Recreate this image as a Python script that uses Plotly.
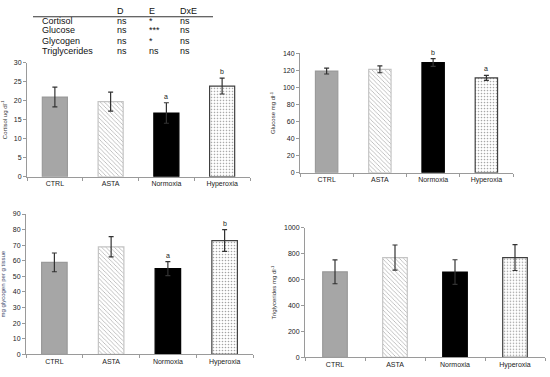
import plotly.graph_objects as go

groups = ["CTRL", "ASTA", "Normoxia", "Hyperoxia"]

cortisol = [21.0, 19.8, 16.8, 23.9]
cortisol_err = [2.6, 2.5, 2.7, 2.1]
cortisol_letters = ["", "", "a", "b"]

glucose = [119, 121, 129, 111]
glucose_err = [3.5, 4.0, 4.5, 3.0]
glucose_letters = ["", "", "b", "a"]

glycogen = [59, 69, 55, 73]
glycogen_err = [6.0, 6.5, 4.5, 7.0]
glycogen_letters = ["", "", "a", "b"]

triglycerides = [660, 770, 658, 770]
triglycerides_err = [92, 97, 95, 100]
triglycerides_letters = ["", "", "", ""]

table_header = ["D", "E", "DxE"]
table_rows = ["Cortisol", "Glucose", "Glycogen", "Triglycerides"]
table_D = ["ns", "ns", "ns", "ns"]
table_E = ["*", "***", "*", "ns"]
table_DxE = ["ns", "ns", "ns", "ns"]

W, H = 550, 377
def px(x): return x / W
def py(y): return 1 - y / H

fill_colors = ["#a6a6a6", "#ffffff", "#000000", "#ffffff"]
line_colors = ["#9a9a9a", "#c4c4c4", "#000000", "#404040"]
pat_shapes = ["", "\\", "", "."]
pat_fg = ["#a6a6a6", "#bdbdbd", "#000000", "#9a9a9a"]

panels = [
    dict(vals=cortisol, err=cortisol_err, letters=cortisol_letters,
         xd=[px(27), px(250)], yd=[py(176), py(60)], rng=[0, 30], dt=5,
         title="Cortisol ug dl<sup>-1</sup>", width=0.45, tcol="#333333"),
    dict(vals=glucose, err=glucose_err, letters=glucose_letters,
         xd=[px(300), px(513)], yd=[py(172), py(50)], rng=[0, 140], dt=20,
         title="Glucose mg dl<sup>-1</sup>", width=0.42, tcol="#333333"),
    dict(vals=glycogen, err=glycogen_err, letters=glycogen_letters,
         xd=[px(26), px(253)], yd=[py(357), py(214)], rng=[0, 90], dt=10,
         title="mg glycogen per g tissue", width=0.45, tcol="#3b4a6b"),
    dict(vals=triglycerides, err=triglycerides_err, letters=triglycerides_letters,
         xd=[px(305), px(545)], yd=[py(360), py(228)], rng=[0, 1000], dt=200,
         title="Triglycerides mg dl<sup>-1</sup>", width=0.41, tcol="#333333"),
]

fig = go.Figure()
annotations = []
for i, p in enumerate(panels):
    n = "" if i == 0 else str(i + 1)
    fig.add_trace(go.Bar(
        x=groups, y=p["vals"], width=p["width"],
        marker=dict(color=fill_colors,
                    line=dict(color=line_colors, width=1.2),
                    pattern=dict(shape=pat_shapes, fgcolor=pat_fg, bgcolor=fill_colors,
                                 size=3, solidity=0.22)),
        error_y=dict(type="data", array=p["err"], color="#333333", thickness=1.2, width=2.5),
        xaxis="x" + n, yaxis="y" + n, showlegend=False, hoverinfo="skip"))
    fig.update_layout(**{
        "xaxis" + n: dict(domain=p["xd"], anchor="y" + n, type="category",
                          showline=True, linecolor="#9a9a9a", linewidth=1,
                          ticks="outside", tickson="boundaries", ticklen=3, tickcolor="#9a9a9a",
                          tickfont=dict(size=7, color="#222222", family="Liberation Sans"),
                          range=[-0.5, 3.5], showgrid=False, zeroline=False, fixedrange=True),
        "yaxis" + n: dict(domain=p["yd"], anchor="x" + n, range=p["rng"], dtick=p["dt"],
                          showline=True, linecolor="#9a9a9a", linewidth=1,
                          ticks="outside", ticklen=3, tickcolor="#9a9a9a",
                          tickfont=dict(size=7, color="#222222", family="Liberation Sans"),
                          showgrid=False, zeroline=False, fixedrange=True,
                          title=dict(text=p["title"], font=dict(size=6, color=p["tcol"], family="Liberation Sans"), standoff=6)),
    })
    for g, v, e, L in zip(groups, p["vals"], p["err"], p["letters"]):
        if L:
            annotations.append(dict(x=g, y=v + e, xref="x" + n, yref="y" + n, text=L,
                                    showarrow=False, yanchor="bottom", yshift=1,
                                    font=dict(size=7, color="#222222", family="Liberation Sans")))

# table
tfont = dict(size=9, color="#111111", family="Liberation Sans")
col_x = [115, 147, 178]
for cx, h in zip(col_x, table_header):
    annotations.append(dict(x=px(cx), y=py(7), xref="paper", yref="paper", text=h,
                            showarrow=False, xanchor="left", yanchor="middle", font=tfont))
row_y = [17, 27, 38, 48]
for r, ry in enumerate(row_y):
    annotations.append(dict(x=px(40), y=py(ry), xref="paper", yref="paper", text=table_rows[r],
                            showarrow=False, xanchor="left", yanchor="middle", font=tfont))
    for cx, col in zip(col_x, [table_D, table_E, table_DxE]):
        annotations.append(dict(x=px(cx), y=py(ry), xref="paper", yref="paper", text=col[r],
                                showarrow=False, xanchor="left", yanchor="middle", font=tfont))

fig.update_layout(
    width=W, height=H, margin=dict(l=0, r=0, t=0, b=0),
    paper_bgcolor="white", plot_bgcolor="white",
    annotations=annotations,
    shapes=[dict(type="line", xref="paper", yref="paper", x0=px(33), x1=px(213),
                 y0=py(13), y1=py(13), line=dict(color="#333333", width=1))],
)
fig.write_html("out.html", config={"displayModeBar": False},
               post_script="document.body.style.margin='0';document.body.style.overflow='hidden';")
